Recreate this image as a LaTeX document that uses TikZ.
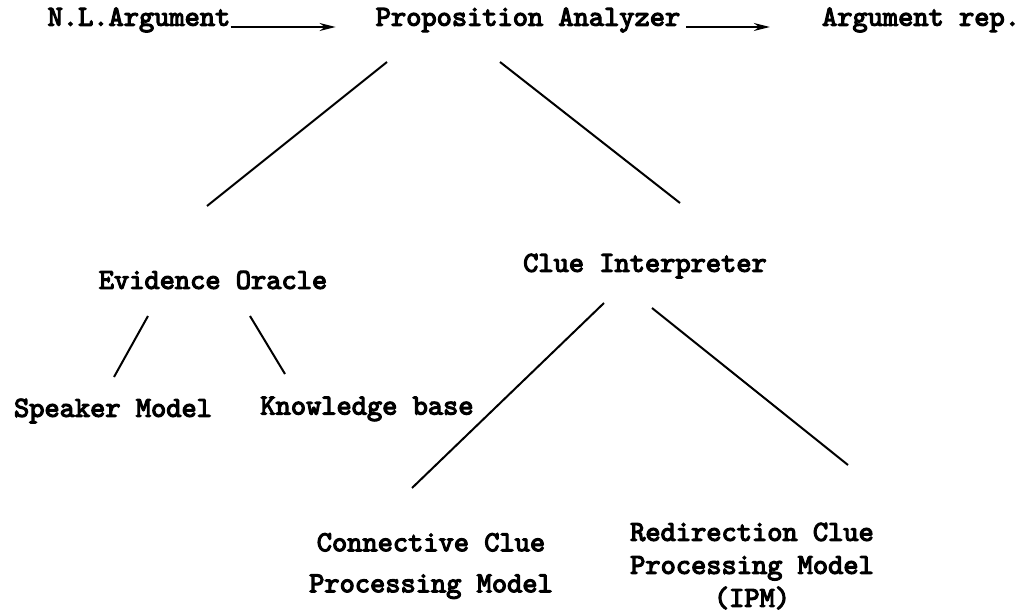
\documentclass[tikz,border=0pt]{standalone}
\usepackage{fontspec}
\setmonofont{lmmono10-regular.otf}[BoldFont=lmmono10-regular.otf, BoldFeatures={FakeBold=4}]
\usetikzlibrary{arrows.meta}
\begin{document}
\begin{tikzpicture}[x=1pt,y=-1pt,
  lbl/.style={inner sep=0pt, align=center, font=\fontsize{29}{33}\selectfont\ttfamily\bfseries},
  link/.style={line width=2pt},
  arr/.style={line width=2pt, -{Stealth[length=16pt,width=8pt]}}]
\useasboundingbox (0,0) rectangle (1029,615);

% processing chain
\node[lbl] (nl) at (139,20) {N.L.Argument};
\node[lbl] (pa) at (528,20) {Proposition Analyzer};
\node[lbl] (ar) at (921,20) {Argument rep.};

% components
\node[lbl] (eo) at (213,280) {Evidence Oracle};
\node[lbl] (ci) at (645,266) {Clue Interpreter};
\node[lbl] (sm) at (113,411) {Speaker Model};
\node[lbl] (kb) at (367,409) {Knowledge base};
\node[lbl, font=\fontsize{29}{41}\selectfont\ttfamily\bfseries] (cc) at (431,566) {Connective Clue\\Processing Model};
\node[lbl, font=\fontsize{29}{33}\selectfont\ttfamily\bfseries] (rc) at (752,566) {Redirection Clue\\Processing Model\\(IPM)};

% ends of the tree links
\coordinate (pa-l) at (387,62);  \coordinate (eo-t) at (207,206);
\coordinate (pa-r) at (500,62);  \coordinate (ci-t) at (680,203);
\coordinate (eo-l) at (148,316); \coordinate (sm-t) at (114,377);
\coordinate (eo-r) at (250,316); \coordinate (kb-t) at (285,374);
\coordinate (ci-l) at (604,303); \coordinate (cc-t) at (412,488);
\coordinate (ci-r) at (652,308); \coordinate (rc-t) at (848,465);

\draw[arr] ([yshift=-7pt]nl.east) -- ([yshift=-7pt,xshift=-40pt]pa.west);
\draw[arr] ([yshift=-7pt,xshift=6pt]pa.east) -- ([yshift=-7pt,xshift=-52pt]ar.west);

\draw[link] (pa-l) -- (eo-t);
\draw[link] (pa-r) -- (ci-t);
\draw[link] (eo-l) -- (sm-t);
\draw[link] (eo-r) -- (kb-t);
\draw[link] (ci-l) -- (cc-t);
\draw[link] (ci-r) -- (rc-t);
\end{tikzpicture}
\end{document}
